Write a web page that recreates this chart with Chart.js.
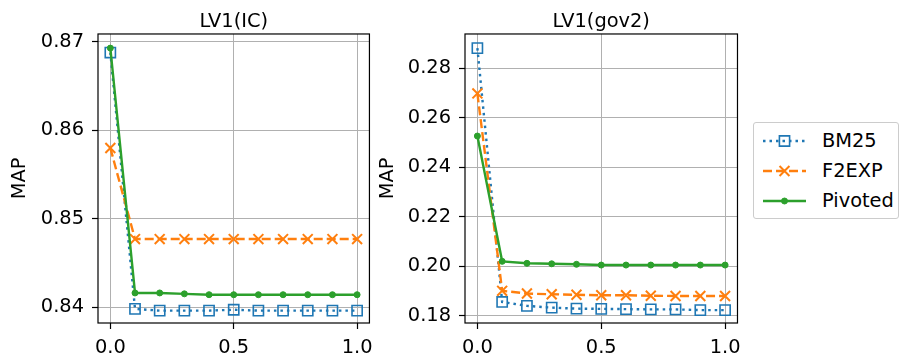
<!DOCTYPE html>
<html>
<head>
<meta charset="utf-8">
<script src="https://cdn.jsdelivr.net/npm/chart.js@4.4.1/dist/chart.umd.min.js"></script>
<style>
  body { margin: 0; background: #fff; width: 907px; height: 364px; overflow: hidden; position: relative; font-family: "DejaVu Sans", sans-serif; }
  #c1, #c2 { position: absolute; top: 0; }
  #c1 { left: 0; }
  #c2 { left: 368px; }
  #legend { position: absolute; left: 753px; top: 122px; width: 146px; height: 97px; border: 1px solid #cccccc; border-radius: 3px; box-sizing: border-box; background: #fff; }
  .row { position: absolute; left: 0; width: 144px; height: 30px; }
  .row canvas { position: absolute; left: 8px; top: 0; }
  .row span { position: absolute; left: 68px; top: 0; line-height: 30px; font-size: 19.4px; color: #000; }
</style>
</head>
<body>
<canvas id="c1" width="380" height="364"></canvas>
<canvas id="c2" width="380" height="364"></canvas>
<div id="legend"></div>
<script>
// x values (lambda) shared by both panels
const xValues = [0, 0.1, 0.2, 0.3, 0.4, 0.5, 0.6, 0.7, 0.8, 0.9, 1.0];
const xTicks = [0, 0.5, 1.0];

// LV1(IC)
const icBM25    = [0.8688, 0.8398, 0.8396, 0.8396, 0.8396, 0.8397, 0.8396, 0.8396, 0.8396, 0.8396, 0.8396];
const icF2EXP   = [0.8580, 0.8477, 0.8477, 0.8477, 0.8477, 0.8477, 0.8477, 0.8477, 0.8477, 0.8477, 0.8477];
const icPivoted = [0.8693, 0.8416, 0.8416, 0.8415, 0.8414, 0.8414, 0.8414, 0.8414, 0.8414, 0.8414, 0.8414];
const icTicks = [0.84, 0.85, 0.86, 0.87];

// LV1(gov2)
const govBM25    = [0.2881, 0.1856, 0.1840, 0.1833, 0.1829, 0.1828, 0.1827, 0.1826, 0.1826, 0.1823, 0.1823];
const govF2EXP   = [0.2698, 0.1901, 0.1890, 0.1887, 0.1885, 0.1883, 0.1883, 0.1881, 0.1880, 0.1880, 0.1880];
const govPivoted = [0.2526, 0.2020, 0.2012, 0.2010, 0.2008, 0.2005, 0.2005, 0.2005, 0.2005, 0.2005, 0.2005];
const govTicks = [0.18, 0.20, 0.22, 0.24, 0.26, 0.28];

const seriesNames = ['BM25', 'F2EXP', 'Pivoted'];

// matplotlib-ish styles
const styles = {
  BM25:    { color: '#1f77b4', dash: [2.5, 4], pointStyle: 'rect', radius: 7.2, pointBorderWidth: 1.6, fill: 'rgba(0,0,0,0)', order: 3 },
  F2EXP:   { color: '#ff7f0e', dash: [9, 4], pointStyle: 'crossRot', radius: 7, pointBorderWidth: 2, fill: '#ff7f0e', order: 2 },
  Pivoted: { color: '#2ca02c', dash: [], pointStyle: 'circle', radius: 3, pointBorderWidth: 1, fill: '#2ca02c', order: 1 }
};

const FONT_SIZE = 19.4;
Chart.defaults.font.family = '"DejaVu Sans", sans-serif';
Chart.defaults.font.size = FONT_SIZE;
Chart.defaults.color = '#000';

// axes frame on all four sides
const frame = {
  id: 'frame',
  afterDatasetsDraw(chart) {
    const a = chart.chartArea, ctx = chart.ctx;
    ctx.save();
    ctx.strokeStyle = '#000';
    ctx.lineWidth = 1.2;
    ctx.strokeRect(a.left, a.top, a.right - a.left, a.bottom - a.top);
    ctx.restore();
  }
};

function buildDatasets(values) {
  return seriesNames.map((name, i) => {
    const s = styles[name];
    return {
      label: name,
      data: xValues.map((x, j) => ({ x: x, y: values[i][j] })),
      borderColor: s.color,
      borderWidth: 2.4,
      borderDash: s.dash,
      pointStyle: s.pointStyle,
      pointRadius: s.radius,
      pointBorderWidth: s.pointBorderWidth,
      pointBorderColor: s.color,
      pointBackgroundColor: s.fill,
      tension: 0,
      clip: false,
      order: s.order
    };
  });
}

function makeChart(id, title, values, yMin, yMax, yTicks, yWidth, padRight) {
  const grid = { color: '#b0b0b0', lineWidth: 1, tickColor: '#000', tickLength: 6, tickWidth: 1.2 };
  return new Chart(document.getElementById(id), {
    type: 'line',
    data: { datasets: buildDatasets(values) },
    options: {
      responsive: false,
      animation: false,
      devicePixelRatio: 1,
      layout: { padding: { left: 0, right: padRight, top: 0, bottom: 0 } },
      plugins: {
        legend: { display: false },
        tooltip: { enabled: false },
        title: {
          display: true, text: title, fullSize: false, color: '#000',
          font: { size: FONT_SIZE, weight: 'normal', lineHeight: 1.2 },
          padding: { top: 10.5, bottom: 0.2 }
        }
      },
      scales: {
        x: {
          type: 'linear', min: -0.05, max: 1.05,
          afterBuildTicks: s => { s.ticks = xTicks.map(v => ({ value: v })); },
          afterFit: s => { s.height = 41; },
          ticks: { callback: v => v.toFixed(1), padding: 7, maxRotation: 0, autoSkip: false },
          grid: grid,
          border: { display: false }
        },
        y: {
          type: 'linear', min: yMin, max: yMax,
          afterBuildTicks: s => { s.ticks = yTicks.map(v => ({ value: v })); },
          afterFit: s => { s.width = yWidth; },
          ticks: { callback: v => v.toFixed(2), padding: 8, autoSkip: false },
          title: { display: true, text: 'MAP', font: { size: FONT_SIZE }, padding: { top: 8, bottom: 0 } },
          grid: grid,
          border: { display: false }
        }
      }
    },
    plugins: [frame]
  });
}

makeChart('c1', 'LV1(IC)', [icBM25, icF2EXP, icPivoted], 0.8382, 0.8709, icTicks, 98, 5);
makeChart('c2', 'LV1(gov2)', [govBM25, govF2EXP, govPivoted], 0.1771, 0.2938, govTicks, 97, 7);

// legend (outside the panels, like matplotlib bbox_to_anchor)
const legend = document.getElementById('legend');
seriesNames.forEach((name, i) => {
  const s = styles[name];
  const row = document.createElement('div');
  row.className = 'row';
  row.style.top = (3 + i * 30) + 'px';
  const cv = document.createElement('canvas');
  cv.width = 46; cv.height = 30;
  const label = document.createElement('span');
  label.textContent = name;
  row.appendChild(cv);
  row.appendChild(label);
  legend.appendChild(row);

  const ctx = cv.getContext('2d');
  ctx.strokeStyle = s.color;
  ctx.lineWidth = 2.4;
  ctx.setLineDash(s.dash);
  ctx.beginPath();
  ctx.moveTo(1, 15);
  ctx.lineTo(44, 15);
  ctx.stroke();
  ctx.setLineDash([]);
  ctx.fillStyle = s.fill;
  ctx.lineWidth = s.pointBorderWidth;
  Chart.helpers.drawPoint(ctx, { pointStyle: s.pointStyle, rotation: 0, radius: s.radius, borderWidth: s.pointBorderWidth }, 22.5, 15);
});
</script>
</body>
</html>
